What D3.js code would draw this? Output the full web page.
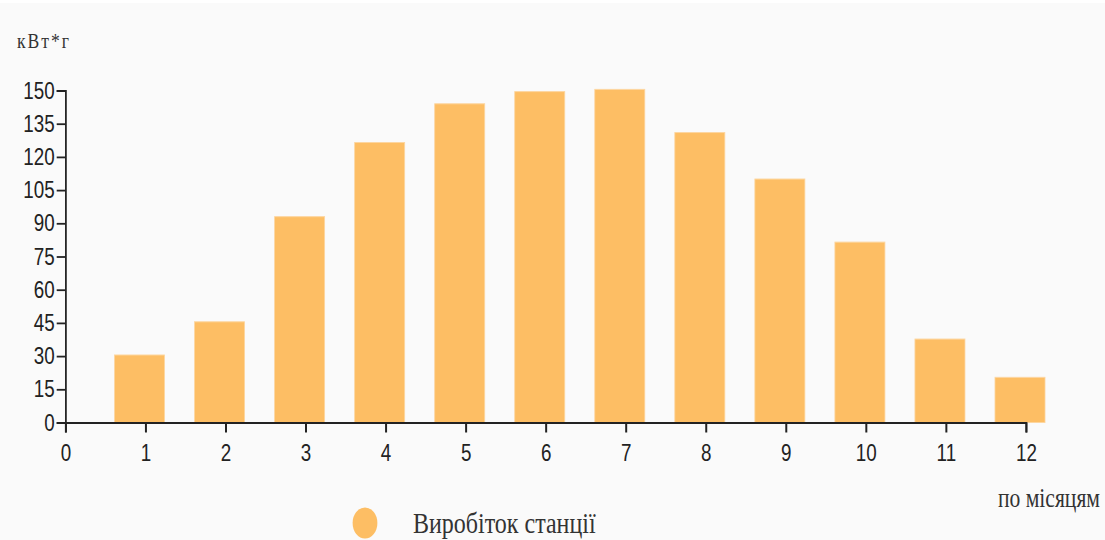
<!DOCTYPE html>
<html>
<head>
<meta charset="utf-8">
<script src="https://cdn.jsdelivr.net/npm/d3@7"></script>
<style>
  html, body { margin: 0; padding: 0; background: #ffffff; }
  svg { display: block; }
  .tick text { font-family: "Liberation Sans", Arial, sans-serif; fill: #222; }
</style>
</head>
<body>
<script>
// Monthly energy output of the station, kWh
const months = [1, 2, 3, 4, 5, 6, 7, 8, 9, 10, 11, 12];
const output = [30.5, 45.5, 93, 126.5, 144, 149.5, 150.5, 131, 110, 81.5, 37.7, 20.4];
const xTicks = [0, 1, 2, 3, 4, 5, 6, 7, 8, 9, 10, 11, 12];
const yTicks = [0, 15, 30, 45, 60, 75, 90, 105, 120, 135, 150];
const yUnit = "кВт*г";
const xUnit = "по місяцям";
const seriesName = "Виробіток станції";

const W = 1105, H = 540;
const squeeze = 0.8;              // glyphs and marks are drawn narrow
const VW = W / squeeze;           // internal drawing width
const serif = "'Times New Roman', 'Liberation Serif', serif";

const svg = d3.select("body").append("svg")
  .attr("width", W).attr("height", H)
  .attr("viewBox", `0 0 ${VW} ${H}`)
  .attr("preserveAspectRatio", "none");

svg.append("rect").attr("x", 0).attr("y", 0).attr("width", VW).attr("height", H).attr("fill", "#ffffff");
svg.append("rect").attr("x", 0).attr("y", 3).attr("width", VW).attr("height", H - 3).attr("fill", "#fafafa");

const x = d3.scaleLinear().domain([0, 12]).range([65.5 / squeeze, 1026 / squeeze]);
const y = d3.scaleLinear().domain([0, 150]).range([422.5, 90.5]);

// bars sit slightly left of their month tick
const barStart = -0.3875, barWidth = 0.625;

svg.append("g").selectAll("rect")
  .data(months)
  .join("rect")
  .attr("x", (m) => x(m + barStart))
  .attr("y", (m, i) => y(output[i]))
  .attr("width", x(barWidth) - x(0))
  .attr("height", (m, i) => y(0) - y(output[i]))
  .attr("fill", "#fdbe64")
  .attr("stroke", "#fdd6a0")
  .attr("stroke-width", 1);

const yAxis = svg.append("g")
  .attr("transform", `translate(${x(0)},0)`)
  .call(d3.axisLeft(y).tickValues(yTicks).tickSize(11).tickPadding(2.5));

const xAxis = svg.append("g")
  .attr("transform", `translate(0,${y(0)})`)
  .call(d3.axisBottom(x).tickValues(xTicks).tickSize(10).tickPadding(12).tickFormat(d3.format("d")));

[yAxis, xAxis].forEach((g) => {
  g.selectAll("path, line").attr("stroke", "#222").attr("stroke-width", 2.2);
  g.selectAll("text").style("font-size", "23.5px");
});
yAxis.selectAll("line").attr("stroke-width", 1.8);
xAxis.selectAll("line").attr("stroke-width", 2.5);

const label = (sel) => sel.style("font-family", serif).style("fill", "#333");

svg.append("text").call(label)
  .attr("x", 17 / squeeze).attr("y", 48)
  .style("font-size", "22px")
  .style("letter-spacing", "2.5px")
  .text(yUnit);

svg.append("text").call(label)
  .attr("x", 1100 / squeeze).attr("y", 507)
  .attr("text-anchor", "end")
  .style("font-size", "27px")
  .text(xUnit);

// legend
svg.append("circle")
  .attr("cx", 365 / squeeze).attr("cy", 523)
  .attr("r", 15.5)
  .attr("fill", "#fdbe64");

svg.append("text").call(label)
  .attr("x", 413 / squeeze).attr("y", 533)
  .style("font-size", "30px")
  .text(seriesName);
</script>
</body>
</html>
